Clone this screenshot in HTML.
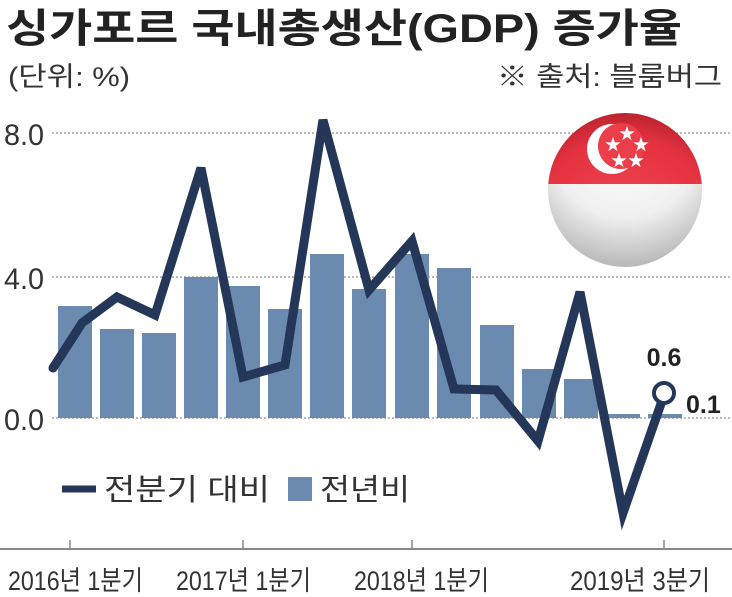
<!DOCTYPE html>
<html><head><meta charset="utf-8"><style>
body{margin:0;background:#fff;}
svg{display:block;font-family:"Liberation Sans","Noto Sans CJK KR",sans-serif;}
</style></head><body>
<svg width="732" height="597" viewBox="0 0 732 597">
<defs>
<radialGradient id="wh" cx="0.5" cy="0.2" r="0.8"><stop offset="0" stop-color="#ffffff"/><stop offset="0.6" stop-color="#f0f0f0"/><stop offset="1" stop-color="#b8b8b8"/></radialGradient>
<radialGradient id="rd" cx="0.5" cy="0.8" r="0.9"><stop offset="0" stop-color="#f24a58"/><stop offset="0.7" stop-color="#e5323f"/><stop offset="1" stop-color="#a51c26"/></radialGradient>
<clipPath id="top"><rect x="540" y="100" width="170" height="84"/></clipPath>
<clipPath id="bot"><rect x="540" y="184" width="170" height="90"/></clipPath>
</defs>
<text x="6" y="42" font-size="40" font-weight="bold" fill="#222" textLength="676" lengthAdjust="spacingAndGlyphs">싱가포르 국내총생산(GDP) 증가율</text>
<text x="8" y="86" font-size="27" fill="#333" textLength="122" lengthAdjust="spacingAndGlyphs">(단위: %)</text>
<text x="497" y="86" font-size="27" fill="#333" textLength="225" lengthAdjust="spacingAndGlyphs">※ 출처: 블룸버그</text>
<g stroke="#777" stroke-width="1" stroke-dasharray="2,2">
<line x1="52" y1="133" x2="732" y2="133"/><line x1="52" y1="277" x2="732" y2="277"/><line x1="52" y1="418" x2="732" y2="418"/>
</g>
<g font-size="30" fill="#333">
<text x="4" y="145" textLength="40" lengthAdjust="spacingAndGlyphs">8.0</text><text x="4" y="289" textLength="40" lengthAdjust="spacingAndGlyphs">4.0</text><text x="4" y="430" textLength="40" lengthAdjust="spacingAndGlyphs">0.0</text>
</g>
<g fill="#6b8ab0">
<rect x="58" y="306" width="34" height="112"/><rect x="100" y="329" width="34" height="89"/><rect x="142" y="333" width="34" height="85"/>
<rect x="184" y="277" width="34" height="141"/><rect x="226" y="286" width="34" height="132"/><rect x="268" y="309" width="34" height="109"/>
<rect x="310" y="254" width="34" height="164"/><rect x="352" y="289" width="34" height="129"/><rect x="395" y="254" width="34" height="164"/>
<rect x="437" y="268" width="34" height="150"/><rect x="480" y="325" width="34" height="93"/><rect x="522" y="369" width="34" height="49"/>
<rect x="564" y="379" width="34" height="39"/><rect x="606" y="414" width="34" height="4"/><rect x="648" y="414" width="34" height="4"/>
</g>
<g>
<circle cx="625" cy="190" r="77" fill="url(#wh)" clip-path="url(#bot)"/>
<circle cx="625" cy="190" r="77" fill="url(#rd)" clip-path="url(#top)"/>
<circle cx="612" cy="149" r="25" fill="#fff"/><circle cx="621" cy="146" r="23" fill="#ec3d4a"/>
<g fill="#fff" font-size="16" text-anchor="middle"><text x="627" y="139">★</text><text x="613" y="150">★</text><text x="641" y="150">★</text><text x="619" y="166">★</text><text x="636" y="166">★</text></g>
</g>
<polyline fill="none" stroke="#253758" stroke-width="9" stroke-linejoin="miter" stroke-linecap="round" points="53,368 82,323 117,297 155,315 201,168 243,377 285,365 323,120 369,290 412,241 454,389 496,390 538,441 580,292 623,513 664,395"/>
<circle cx="664" cy="393" r="10" fill="#fff" stroke="#253758" stroke-width="4"/>
<text x="664" y="366" font-size="25" font-weight="bold" fill="#222" text-anchor="middle">0.6</text>
<text x="686" y="413" font-size="25" font-weight="bold" fill="#222">0.1</text>
<line x1="62" y1="489" x2="96" y2="489" stroke="#253758" stroke-width="7"/>
<text x="104" y="500" font-size="30" fill="#333" textLength="166" lengthAdjust="spacingAndGlyphs">전분기 대비</text>
<rect x="288" y="477" width="24" height="24" fill="#6b8ab0"/>
<text x="320" y="500" font-size="30" fill="#333" textLength="90" lengthAdjust="spacingAndGlyphs">전년비</text>
<line x1="0" y1="549" x2="732" y2="549" stroke="#888" stroke-width="2"/>
<g stroke="#888" stroke-width="1.5"><line x1="70" y1="540" x2="70" y2="549"/><line x1="243" y1="540" x2="243" y2="549"/><line x1="412" y1="540" x2="412" y2="549"/><line x1="664" y1="540" x2="664" y2="549"/></g>
<g font-size="27" fill="#333">
<text x="8" y="590" textLength="135" lengthAdjust="spacingAndGlyphs">2016년 1분기</text>
<text x="176" y="590" textLength="135" lengthAdjust="spacingAndGlyphs">2017년 1분기</text>
<text x="354" y="590" textLength="135" lengthAdjust="spacingAndGlyphs">2018년 1분기</text>
<text x="570" y="590" textLength="140" lengthAdjust="spacingAndGlyphs">2019년 3분기</text>
</g>
</svg>
</body></html>
